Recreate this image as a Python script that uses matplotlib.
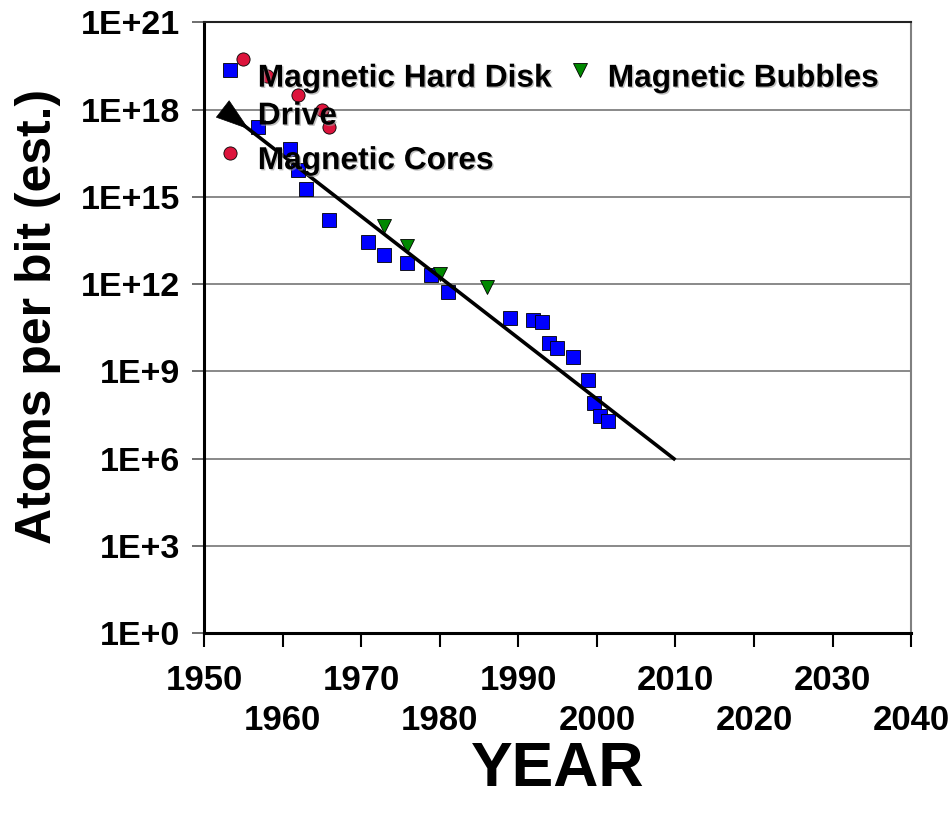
import numpy as np
import matplotlib
matplotlib.use("Agg")
import matplotlib.pyplot as plt
import matplotlib.patheffects as pe
from matplotlib.transforms import ScaledTranslation

plt.rcParams['font.family'] = ['Liberation Sans', 'DejaVu Sans']
plt.rcParams['font.weight'] = 'bold'
plt.rcParams['axes.labelweight'] = 'bold'

# hard disk drives
disk_year = [1956.9, 1960.9, 1961.9, 1963.0, 1965.9, 1970.9, 1972.9, 1975.9,
             1978.9, 1981.0, 1988.9, 1991.9, 1993.0, 1993.9, 1994.9, 1997.0,
             1998.9, 1999.7, 2000.4, 2001.4]
disk_atoms = [2.5e17, 4.4e16, 8.5e15, 1.8e15, 1.6e14, 2.7e13, 1.0e13, 5.5e12,
              2.0e12, 5.5e11, 6.6e10, 5.9e10, 4.9e10, 9.1e9, 6.2e9, 3.2e9,
              5.0e8, 7.9e7, 2.9e7, 1.9e7]

# magnetic cores
core_year = [1954.9, 1958.0, 1961.9, 1965.0, 1965.9]
core_atoms = [5.4e19, 1.4e19, 3.2e18, 1.0e18, 2.5e17]

# magnetic bubbles
bubble_year = [1972.9, 1975.9, 1980.0, 1986.0]
bubble_atoms = [1.0e14, 2.0e13, 2.3e12, 7.8e11]

# trend line
trend_year = [1952.5, 2010.0]
trend_atoms = [1.0e18, 9.0e5]

x_ticks = [1950, 1960, 1970, 1980, 1990, 2000, 2010, 2020, 2030, 2040]
y_ticks = [1e0, 1e3, 1e6, 1e9, 1e12, 1e15, 1e18, 1e21]
y_labels = ['1E+0', '1E+3', '1E+6', '1E+9', '1E+12', '1E+15', '1E+18', '1E+21']

fig = plt.figure(figsize=(9.52, 8.14), dpi=100)
ax = fig.add_axes([0.2143, 0.2224, 0.7427, 0.75])

ax.set_yscale('log')
ax.set_xlim(1950, 2040)
ax.set_ylim(1e0, 1e21)

ax.set_yticks(y_ticks)
ax.set_yticklabels(y_labels)
ax.yaxis.set_minor_locator(matplotlib.ticker.NullLocator())
ax.set_xticks(x_ticks)
ax.set_xticklabels([str(y) if i % 2 == 0 else '\n' + str(y)
                    for i, y in enumerate(x_ticks)])
for lab in ax.get_xticklabels():
    lab.set_linespacing(1.3)

ax.tick_params(axis='y', labelsize=24.5, length=9, width=1.2, color='#555555', pad=8)
ax.tick_params(axis='x', labelsize=25, length=10, width=1.5, color='black', pad=12)

ax.grid(axis='y', color='#808080', linewidth=1.3)
ax.set_axisbelow(True)

ax.spines['left'].set_linewidth(2.2)
ax.spines['bottom'].set_linewidth(2.2)
ax.spines['top'].set_linewidth(1.5)
ax.spines['top'].set_color('#222222')
ax.spines['right'].set_linewidth(1.5)
ax.spines['right'].set_color('#808080')

ax.set_xlabel('YEAR', fontsize=45, labelpad=2)
ax.set_ylabel('Atoms per bit (est.)', fontsize=36)
ax.yaxis.set_label_coords(-0.202, 0.518)

ms = 9.5
ax.plot(disk_year, disk_atoms, 's', color='#0000FF', mec='black', mew=0.6,
        ms=ms, zorder=3)
ax.plot(core_year, core_atoms, 'o', color='#DC143C', mec='black', mew=0.6,
        ms=ms, zorder=3)
ax.plot(bubble_year, bubble_atoms, 'v', color='#008800', mec='black', mew=0.6,
        ms=ms, zorder=3)

# trend line with a wedge at its start
ax.plot(trend_year, trend_atoms, color='black', lw=2.6, solid_capstyle='butt',
        zorder=4)
p0 = ax.transData.transform((trend_year[0], trend_atoms[0]))
p1 = ax.transData.transform((trend_year[1], trend_atoms[1]))
d = (p1 - p0) / np.hypot(*(p1 - p0))
head = 23 / 72
tip_tr = ax.transData + ScaledTranslation(d[0] * head, d[1] * head,
                                          fig.dpi_scale_trans)
ax.annotate('', xy=(trend_year[0], trend_atoms[0]), xycoords=tip_tr,
            xytext=(trend_year[0], trend_atoms[0]), textcoords='data',
            arrowprops=dict(arrowstyle='-|>,head_length=23,head_width=7.5',
                            mutation_scale=1, color='black', lw=0.5,
                            shrinkA=0, shrinkB=0),
            zorder=4)

# key
shadow = [pe.withSimplePatchShadow(offset=(1, -1), shadow_rgbFace='#999999',
                                   alpha=0.6)]
key_font = dict(fontsize=22.8, fontweight='bold', transform=ax.transAxes,
                va='center', ha='left', zorder=6, path_effects=shadow)
ax.plot([0.0366], [0.9223], 's', color='#0000FF', mec='black', mew=0.6, ms=ms,
        transform=ax.transAxes, clip_on=False, zorder=5)
ax.text(0.076, 0.908, 'Magnetic Hard Disk', **key_font)
ax.text(0.076, 0.846, 'Drive', **key_font)
ax.plot([0.0366], [0.7862], 'o', color='#DC143C', mec='black', mew=0.6, ms=ms,
        transform=ax.transAxes, clip_on=False, zorder=5)
ax.text(0.076, 0.773, 'Magnetic Cores', **key_font)
ax.plot([0.5318], [0.9223], 'v', color='#008800', mec='black', mew=0.6,
        ms=ms, transform=ax.transAxes, clip_on=False, zorder=5)
ax.text(0.571, 0.908, 'Magnetic Bubbles', **key_font)

fig.savefig('out.png', dpi=100)
